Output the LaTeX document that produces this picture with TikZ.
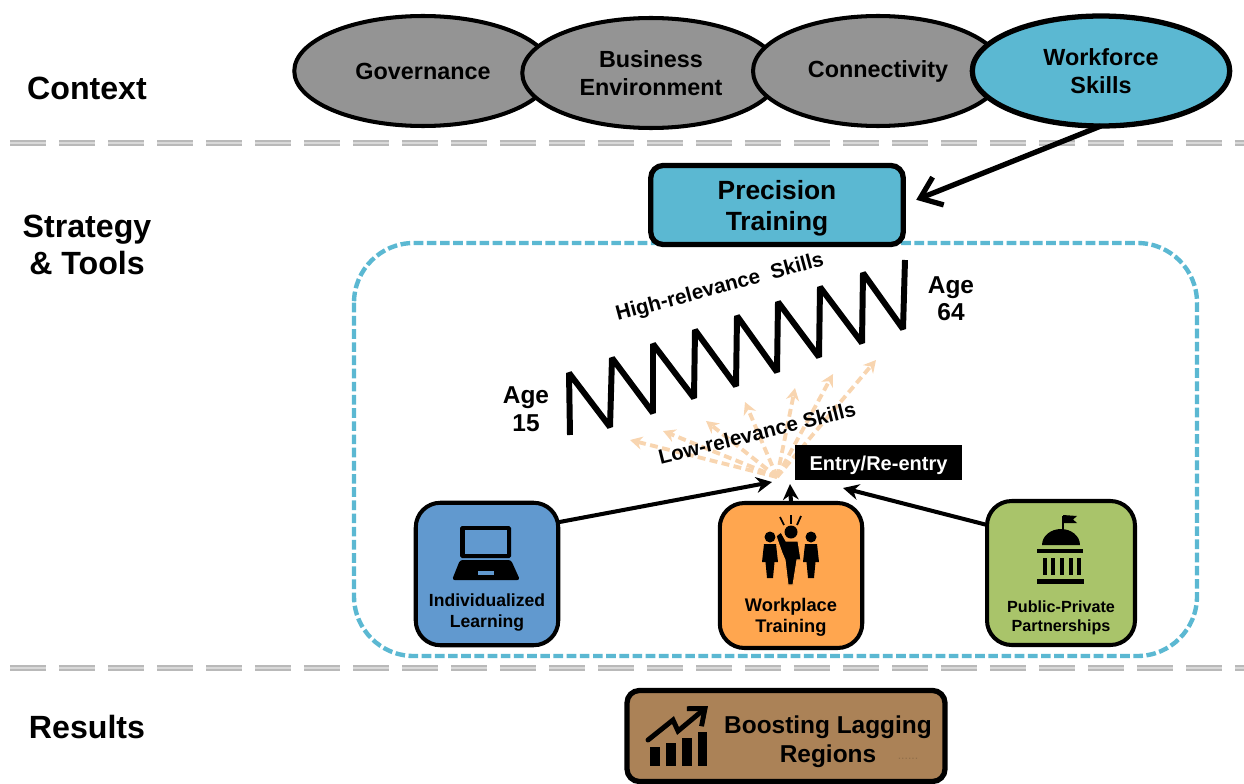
\documentclass[tikz,border=0pt]{standalone}
\usepackage{fontspec}
\setmainfont{Liberation Sans}
\usetikzlibrary{arrows.meta,shapes.geometric}
\definecolor{skyfill}{HTML}{5BB8D2}
\definecolor{grayfill}{HTML}{949494}
\definecolor{bluefill}{HTML}{6199CF}
\definecolor{orangefill}{HTML}{FFA64F}
\definecolor{greenfill}{HTML}{A9C46A}
\definecolor{brownfill}{HTML}{AB8257}
\definecolor{peach}{HTML}{F8D5B0}
\tikzset{
  every node/.style={font=\bfseries, inner sep=0pt, outer sep=0pt, align=center},
  sect/.style={font=\bfseries\fontsize{18.3}{21.2}\selectfont},
  oval/.style={ellipse, draw=black, line width=2.3pt, fill=grayfill, minimum width=5.15cm, minimum height=2.2cm, font=\bfseries\fontsize{13.3}{16}\selectfont},
  card/.style={rectangle, rounded corners=14pt, draw=black, line width=2.3pt, minimum width=2.85cm, minimum height=2.85cm},
  cardtext/.style={font=\bfseries\fontsize{10}{12}\selectfont},
  divider/.style={draw=gray!55, double=gray!30, line width=0.8pt, double distance=1.4pt, dash pattern=on 0.72cm off 0.26cm},
  blackarrow/.style={draw=black, line width=2.3pt, -{Stealth[length=9pt,width=9pt]}},
  lowarrow/.style={draw=peach, line width=2.2pt, dash pattern=on 4.5pt off 2.5pt, -{Stealth[length=7pt,width=7.5pt]}},
  person/.pic={
    \fill (0,0) circle (5.5);
    \fill (-6,7) -- (6,7) -- (8,25) -- (4.5,25) -- (3,41) -- (-3,41) -- (-4.5,25) -- (-8,25) -- cycle;
  }
}
\begin{document}
\begin{tikzpicture}[x=0.02cm,y=-0.02cm]
\useasboundingbox (0,0) rectangle (1244,784);

\node[sect](Ctx) at (87,88) {Context};
\node[sect](Str) at (87,245) {Strategy\\\& Tools};
\node[sect](Res) at (87,727) {Results};

\coordinate (DivA1) at (10,143);
\coordinate (DivA2) at (1244,143);
\coordinate (DivB1) at (10,668);
\coordinate (DivB2) at (1244,668);
	\draw[divider] (DivA1) to (DivA2);
	\draw[divider] (DivB1) to (DivB2);

\node[oval](Gov) at (423,71) {Governance};
\node[oval](Bus) at (651,73) {Business\\Environment};
\node[oval, minimum width=5cm](Con) at (878,71) {Connectivity};
\node[oval, fill=skyfill, line width=3pt](Wrk) at (1101,71) {Workforce\\Skills};

\draw[draw=skyfill, line width=2.5pt, dash pattern=on 5.5pt off 2pt, rounded corners=34pt] (354,243) rectangle (1197,656);

\node[rectangle, rounded corners=7pt, draw=black, line width=3pt, fill=skyfill, minimum width=5.05cm, minimum height=1.58cm](Pre) at (777,205) {};
\node[font=\bfseries\fontsize{15}{17.6}\selectfont](PreT) at (777,208) {Precision\\Training};
	\draw[draw=black, line width=3pt, shorten >=0.28cm, -{Straight Barb[length=11pt,width=17pt]}] (Wrk.south) to (Pre.east);

\node[font=\bfseries\fontsize{11.8}{13}\selectfont, rotate=15](High) at (720,288) {High-relevance~~Skills};
\node[font=\bfseries\fontsize{13.9}{16}\selectfont](AgeA) at (526,409) {Age\\15};
\node[font=\bfseries\fontsize{13.9}{15.6}\selectfont](AgeB) at (951,298.5) {Age\\64};

\draw[line width=3.4pt, line join=miter, miter limit=3] (570,435) -- (569,373) -- (610,427) -- (612,358) -- (653,413) -- (653,344) -- (694,398) -- (695,330) -- (736,386) -- (737,316) -- (777,372) -- (778,302) -- (819,357) -- (820,287) -- (862,343) -- (863,273) -- (903,329) -- (905,260);

\coordinate (Hub) at (777,477);
\coordinate (Low1) at (630,440);
	\draw[lowarrow] (Hub) to (Low1);
\coordinate (Low2) at (663,431);
	\draw[lowarrow] (Hub) to (Low2);
\coordinate (Low3) at (706,421);
	\draw[lowarrow] (Hub) to (Low3);
\coordinate (Low4) at (745,402);
	\draw[lowarrow] (Hub) to (Low4);
\coordinate (Low5) at (795,388);
	\draw[lowarrow] (Hub) to (Low5);
\coordinate (Low6) at (833,374);
	\draw[lowarrow] (Hub) to (Low6);
\coordinate (Low7) at (876,360);
	\draw[lowarrow] (Hub) to (Low7);
\node[font=\bfseries\fontsize{11.7}{13}\selectfont, rotate=14](LowT) at (757,433) {Low-relevance Skills};

\node[rectangle, fill=black, minimum width=3.34cm, minimum height=0.7cm](Ent) at (878.5,462.5) {};
\node[text=white, font=\bfseries\fontsize{11.4}{13}\selectfont](EntT) at (878.5,465) {Entry/Re-entry};

\node[card, fill=bluefill](Ind) at (487,574) {};
\node[card, fill=orangefill, minimum height=2.9cm](Wpl) at (791,575.5) {};
\node[card, fill=greenfill, minimum width=2.96cm, minimum height=2.88cm](Pub) at (1061,573) {};
\coordinate (ArrL) at (772,482);
	\draw[blackarrow] (Ind.36) to (ArrL);
\coordinate (ArrM) at (790,484);
	\draw[blackarrow] (Wpl.north) to (ArrM);
\coordinate (ArrR) at (843,488);
	\draw[blackarrow] (Pub.147) to (ArrR);

\node[cardtext](IndT) at (487,612.5) {Individualized\\Learning};
\node[cardtext, font=\bfseries\fontsize{10.4}{12}\selectfont](WplT) at (791,617) {Workplace\\Training};
\node[cardtext, font=\bfseries\fontsize{9.2}{11}\selectfont](PubT) at (1061,617.5) {Public-Private\\Partnerships};

% laptop
\fill[rounded corners=1pt] (460,526) rectangle (511,558);
\fill[bluefill] (465,530) rectangle (507,554);
\fill[rounded corners=1.5pt] (460,560) -- (511,560) -- (520,580) -- (452,580) -- cycle;
\fill[bluefill] (478,571) rectangle (494,575);

% people
\pic at (770,537) {person};
\pic at (811,537) {person};
\fill[draw=orangefill, line width=0.6pt] (776,536) -- (781,532) -- (786,541) -- (798,541) -- (801,560) -- (797,560) -- (793,585) -- (788,585) -- (785,560) -- (782,553) -- cycle;
\fill (791,532) circle (6.5);
\draw[line width=1pt] (780,517) -- (784,525);
\draw[line width=1pt] (791,515) -- (791,524);
\draw[line width=1pt] (801,516) -- (797,525);

% capitol
\draw[line width=1pt] (1063,516) -- (1063,530);
\fill (1063,515) -- (1077,516) -- (1073,519.5) -- (1077,523) -- (1063,523) -- cycle;
\fill (1042,545) arc[start angle=180, end angle=360, x radius=19, y radius=16] -- cycle;
\fill (1037,549) rectangle (1083,553);
\fill (1042.5,558) rectangle (1046.5,575);
\fill (1050.5,558) rectangle (1054.5,575);
\fill (1059.5,558) rectangle (1063.5,575);
\fill (1068.5,558) rectangle (1072.5,575);
\fill (1076.5,558) rectangle (1080.5,575);
\fill (1037,579) rectangle (1084,584);

\node[rectangle, rounded corners=7pt, draw=black, line width=3pt, fill=brownfill, minimum width=6.36cm, minimum height=1.82cm](Boo) at (786,736) {};
\node[font=\bfseries\fontsize{13.9}{16.5}\selectfont](BooT) at (828,742) {Boosting Lagging\\Regions};
\node[font=\fontsize{7}{8}\selectfont, text=brownfill!85!black](BooD) at (908,759) {......};

% chart
\fill (650,747) rectangle (660,766);
\fill (666,743) rectangle (676,766);
\fill (682,738) rectangle (692,766);
\fill (698,732) rectangle (707,766);
\draw[line width=2.8pt, line join=miter, line cap=round, -{Straight Barb[length=8pt,width=13pt]}] (648,740) -- (673,720) -- (678,731) -- (708,706);
\end{tikzpicture}
\end{document}
